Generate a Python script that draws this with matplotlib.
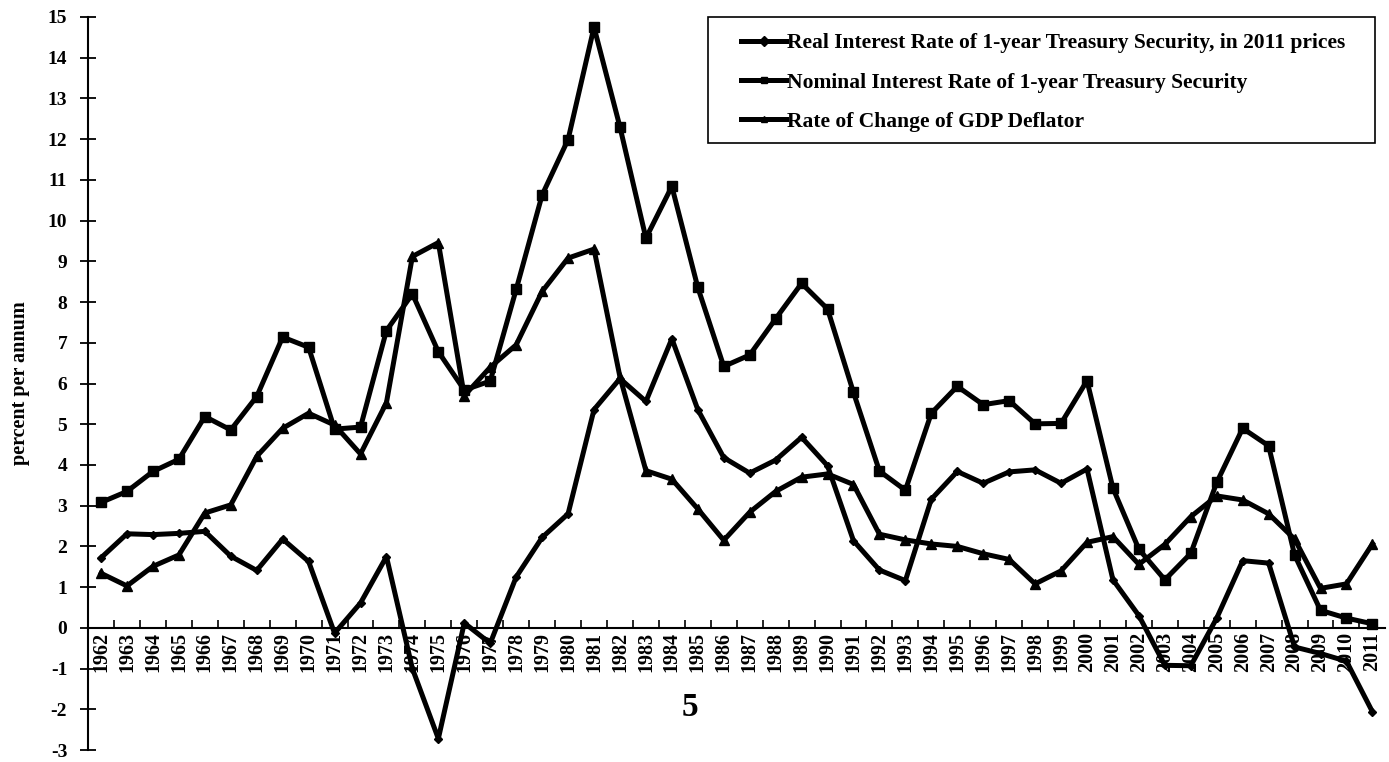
import matplotlib
matplotlib.use("Agg")
import matplotlib.pyplot as plt
from matplotlib.ticker import FixedLocator
from matplotlib.patches import Rectangle

years = list(range(1962, 2012))

# real interest rate of 1-year treasury, 2011 prices
real = [1.72, 2.31, 2.29, 2.32, 2.37, 1.76, 1.41, 2.18, 1.63, -0.13,
        0.61, 1.75, -1.00, -2.72, 0.12, -0.38, 1.25, 2.22, 2.80, 5.36,
        6.12, 5.56, 7.10, 5.36, 4.18, 3.80, 4.12, 4.68, 3.98, 2.14,
        1.42, 1.16, 3.16, 3.84, 3.55, 3.83, 3.88, 3.55, 3.90, 1.18,
        0.30, -0.92, -0.93, 0.24, 1.65, 1.59, -0.47, -0.63, -0.82, -2.06]

# nominal interest rate of 1-year treasury
nominal = [3.08, 3.35, 3.84, 4.14, 5.19, 4.86, 5.68, 7.14, 6.89, 4.88,
           4.93, 7.30, 8.20, 6.78, 5.84, 6.06, 8.31, 10.63, 11.99, 14.75,
           12.30, 9.57, 10.84, 8.36, 6.42, 6.70, 7.59, 8.46, 7.83, 5.78,
           3.85, 3.38, 5.27, 5.93, 5.48, 5.58, 5.01, 5.02, 6.07, 3.43,
           1.93, 1.18, 1.83, 3.57, 4.90, 4.47, 1.79, 0.43, 0.24, 0.10]

# rate of change of GDP deflator
deflator = [1.34, 1.03, 1.51, 1.79, 2.82, 3.02, 4.21, 4.90, 5.27, 4.98,
            4.27, 5.53, 9.12, 9.46, 5.70, 6.40, 6.95, 8.26, 9.08, 9.30,
            6.16, 3.86, 3.65, 2.92, 2.15, 2.84, 3.35, 3.70, 3.78, 3.52,
            2.30, 2.16, 2.06, 2.00, 1.82, 1.68, 1.08, 1.40, 2.10, 2.24,
            1.56, 2.05, 2.73, 3.24, 3.14, 2.80, 2.18, 0.97, 1.08, 2.06]

labels = ['Real Interest Rate of 1-year Treasury Security, in 2011 prices',
          'Nominal Interest Rate of 1-year Treasury Security',
          'Rate of Change of GDP Deflator']

plt.rcParams['font.family'] = ['Liberation Serif', 'DejaVu Serif']
plt.rcParams['font.weight'] = 'bold'
plt.rcParams['axes.unicode_minus'] = False

W, H = 1389, 762
fig = plt.figure(figsize=(W / 100, H / 100), dpi=100)
ax = fig.add_axes([0.0634, 0.0157, 0.934, 0.962])

lw = 3.6
ax.plot(years, real, color='black', lw=lw, marker='D', ms=4, label=labels[0])
ax.plot(years, nominal, color='black', lw=lw, marker='s', ms=7, label=labels[1])
ax.plot(years, deflator, color='black', lw=lw, marker='^', ms=7, label=labels[2])

ax.set_xlim(1961.5, 2011.5)
ax.set_ylim(-3, 15)

ax.spines['top'].set_visible(False)
ax.spines['right'].set_visible(False)
ax.spines['bottom'].set_position(('data', 0))
ax.spines['left'].set_linewidth(1.5)
ax.spines['bottom'].set_linewidth(1.5)

ax.set_yticks(range(-3, 16))
ax.tick_params(axis='y', direction='inout', length=12, width=1.3, labelsize=14, pad=9)

ax.set_xticks(years)
ax.set_xticklabels([str(y) for y in years], rotation=90, fontsize=14.5)
ax.tick_params(axis='x', which='major', length=0, pad=3)
ax.xaxis.set_minor_locator(FixedLocator([y + 0.5 for y in years[:-1]]))
ax.tick_params(axis='x', which='minor', direction='in', length=6, width=1.2)

for t in ax.get_xticklabels() + ax.get_yticklabels():
    t.set_fontweight('bold')

ax.set_ylabel('percent per annum', fontsize=14.5, fontweight='bold')
ax.yaxis.set_label_coords(-0.045, 0.5)

# legend frame drawn separately so the padding matches the original
fig.patches.append(Rectangle((708 / W, 1 - 143 / H), (1375 - 708) / W, (143 - 17) / H,
                             transform=fig.transFigure, fill=False,
                             edgecolor='black', lw=1.2))
leg = ax.legend(loc='upper left', bbox_to_anchor=(741 / W, 1 - 33 / H),
                bbox_transform=fig.transFigure, frameon=False,
                fontsize=15.5, handlelength=2.1, labelspacing=0.9,
                borderpad=0, handletextpad=0.05, borderaxespad=0)
for t in leg.get_texts():
    t.set_fontweight('bold')
for h in leg.legend_handles:
    h.set_markersize(5)

fig.text(0.497, 0.072, '5', fontsize=24, fontweight='bold', ha='center', va='center')

fig.savefig('out.png', dpi=100)
